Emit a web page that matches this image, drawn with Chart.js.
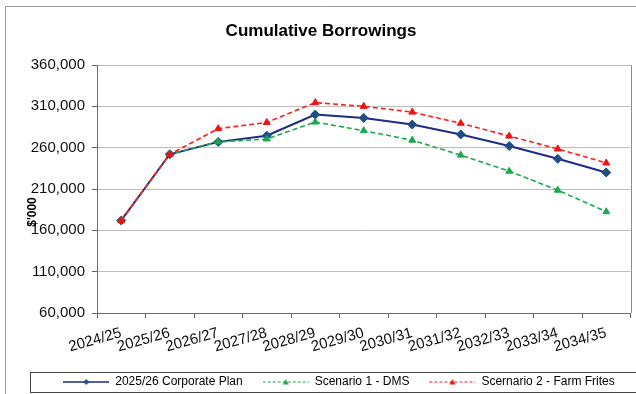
<!DOCTYPE html>
<html>
<head>
<meta charset="utf-8">
<title>Cumulative Borrowings</title>
<script src="https://cdn.jsdelivr.net/npm/chart.js@4"></script>
<style>
  html, body { margin: 0; padding: 0; background: #ffffff; }
  canvas { display: block; }
</style>
</head>
<body>
<canvas id="chart" width="636" height="394"></canvas>
<script>
// Financial years on the horizontal axis
const categories = ['2024/25', '2025/26', '2026/27', '2027/28', '2028/29', '2029/30',
                    '2030/31', '2031/32', '2032/33', '2033/34', '2034/35'];

// Cumulative borrowings, $'000
const corporatePlan = [172000, 252000, 267000, 274500, 300000, 296000, 288000, 276000, 262000, 246500, 230000];
const scenario1DMS = [172000, 252000, 267000, 270500, 291000, 280500, 269000, 251000, 231500, 208500, 182500];
const scenario2FarmFrites = [172000, 252000, 283000, 290500, 314500, 310000, 303000, 289500, 274000, 258500, 241500];

// Value axis ticks
const yTickValues = [60000, 110000, 160000, 210000, 260000, 310000, 360000];

const FONT = "'Liberation Sans', Arial, Helvetica, sans-serif";

const styles = {
  plan: { line: '#1F2A86', point: '#1F4E84', dash: [], width: 2, marker: 'rectRot', r: 4.5 },
  dms:  { line: '#1DA84E', point: '#1DA84E', dash: [5, 3], width: 1.6, marker: 'triangle', r: 4 },
  farm: { line: '#FF1E1E', point: '#F01212', dash: [5, 3], width: 1.6, marker: 'triangle', r: 4 }
};

// Small line-with-marker swatches used as legend symbols
function makeSwatch(s, w, h) {
  const cv = document.createElement('canvas');
  cv.width = w; cv.height = h;
  const g = cv.getContext('2d');
  g.strokeStyle = s.line;
  g.lineWidth = s.dash.length ? 1.2 : 1.6;
  g.setLineDash(s.dash.length ? [3, 2] : []);
  g.beginPath(); g.moveTo(0, h / 2); g.lineTo(w, h / 2); g.stroke();
  g.setLineDash([]);
  g.fillStyle = s.point;
  const cx = w / 2, cy = h / 2, r = 3;
  g.beginPath();
  if (s.marker === 'rectRot') {
    g.moveTo(cx, cy - r); g.lineTo(cx + r, cy); g.lineTo(cx, cy + r); g.lineTo(cx - r, cy);
  } else {
    g.moveTo(cx, cy - r); g.lineTo(cx + r, cy + r * 0.8); g.lineTo(cx - r, cy + r * 0.8);
  }
  g.closePath(); g.fill();
  return cv;
}

function lineDataset(label, data, s) {
  return {
    label, data,
    borderColor: s.line, backgroundColor: s.point,
    borderWidth: s.width, borderDash: s.dash,
    pointStyle: s.marker, pointRadius: s.r,
    pointBackgroundColor: s.point, pointBorderColor: s.point, pointBorderWidth: 1,
    tension: 0, fill: false
  };
}

// Red series first so it is painted on top; legend is reversed back to plan order
const datasets = [
  lineDataset('Scernario 2 - Farm Frites', scenario2FarmFrites, styles.farm),
  lineDataset('Scenario 1 - DMS', scenario1DMS, styles.dms),
  lineDataset('2025/26 Corporate Plan', corporatePlan, styles.plan)
];
const swatches = [makeSwatch(styles.farm, 46, 10), makeSwatch(styles.dms, 46, 10), makeSwatch(styles.plan, 46, 10)];

const decorations = {
  id: 'decorations',
  afterLayout(chart) {
    const lg = chart.legend;
    lg.left += 18; lg.right += 18; lg.top += 4; lg.bottom += 4;
  },
  beforeDraw(chart) {
    const ctx = chart.ctx;
    ctx.save();
    ctx.strokeStyle = '#9a9a9a';
    ctx.lineWidth = 1;
    ctx.beginPath();
    ctx.moveTo(5.5, chart.height); ctx.lineTo(5.5, 6.5); ctx.lineTo(chart.width, 6.5);
    ctx.stroke();
    ctx.restore();
  },
  afterDraw(chart) {
    const ctx = chart.ctx, a = chart.chartArea;
    ctx.save();
    // right edge of the plot area
    ctx.strokeStyle = '#8c8c8c';
    ctx.lineWidth = 1;
    ctx.beginPath();
    ctx.moveTo(Math.round(a.right) + 0.5, a.top); ctx.lineTo(Math.round(a.right) + 0.5, a.bottom);
    ctx.stroke();
    // legend frame
    ctx.strokeStyle = '#444444';
    ctx.strokeRect(30.5, 372.5, 640, 20);
    // value axis title
    ctx.fillStyle = '#000';
    ctx.font = 'bold 12px ' + FONT;
    ctx.textAlign = 'center';
    ctx.textBaseline = 'middle';
    ctx.translate(a.left - 64, (a.top + a.bottom) / 2 + 23);
    ctx.rotate(-Math.PI / 2);
    ctx.fillText("$'000", 0, 0);
    ctx.restore();
  }
};

new Chart(document.getElementById('chart'), {
  type: 'line',
  data: { labels: categories, datasets },
  plugins: [decorations],
  options: {
    responsive: false,
    animation: false,
    layout: { padding: { left: 10, right: 4, top: 0, bottom: 0 } },
    plugins: {
      tooltip: { enabled: false },
      title: {
        display: true,
        text: 'Cumulative Borrowings',
        color: '#000',
        font: { family: FONT, size: 17, weight: 'bold' },
        padding: { top: 21, bottom: 23.6 }
      },
      legend: {
        position: 'bottom',
        reverse: true,
        labels: {
          usePointStyle: true,
          pointStyleWidth: 46,
          padding: 20,
          color: '#000',
          font: { family: FONT, size: 12 },
          generateLabels(chart) {
            const items = Chart.defaults.plugins.legend.labels.generateLabels(chart);
            items.forEach(it => { it.pointStyle = swatches[it.datasetIndex]; });
            return items;
          }
        }
      }
    },
    scales: {
      x: {
        offset: true,
        afterFit(scale) { scale.height = 39; },
        grid: { display: true, offset: true, drawOnChartArea: false, drawTicks: true, tickLength: 5, tickColor: '#666' },
        border: { display: true, color: '#6e6e6e', width: 1 },
        ticks: {
          autoSkip: false, minRotation: 16, maxRotation: 16, padding: 6,
          color: '#111', font: { family: FONT, size: 15 }
        }
      },
      y: {
        min: yTickValues[0],
        max: yTickValues[yTickValues.length - 1],
        afterFit(scale) { scale.width = 87; },
        afterBuildTicks(scale) { scale.ticks = yTickValues.map(v => ({ value: v })); },
        grid: { color: '#bdbdbd', lineWidth: 1, tickLength: 5, tickColor: '#666' },
        border: { display: true, color: '#6e6e6e', width: 1 },
        ticks: {
          padding: 7, color: '#111', font: { family: FONT, size: 15 },
          callback: v => Number(v).toLocaleString('en-US')
        }
      }
    }
  }
});
</script>
</body>
</html>
